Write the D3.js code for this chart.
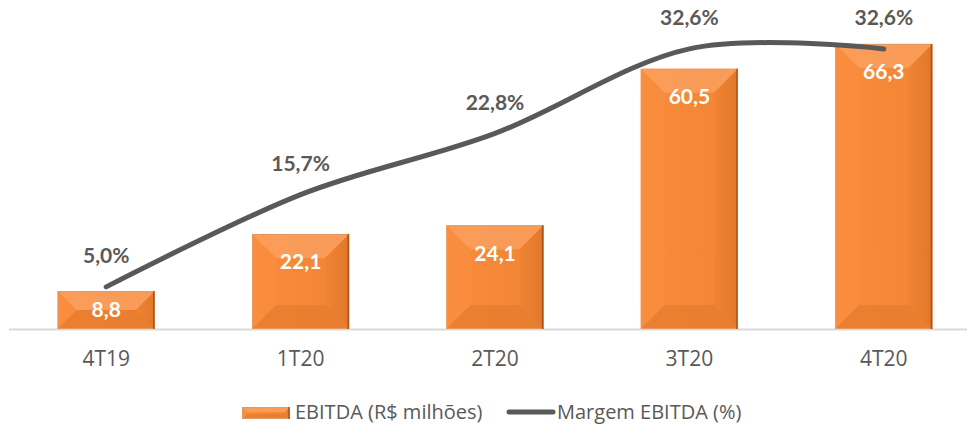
<!DOCTYPE html>
<html>
<head>
<meta charset="utf-8">
<script src="https://cdn.jsdelivr.net/npm/d3@7"></script>
<style>
  html, body { margin: 0; padding: 0; background: #fff; }
  svg text { font-family: Lato, "Open Sans", sans-serif; }
  svg text.reg { font-family: "Open Sans", sans-serif; }
</style>
</head>
<body>
<div id="chart"></div>
<script>
// chart data
const quarters = ["4T19", "1T20", "2T20", "3T20", "4T20"];
const ebitda = [8.8, 22.1, 24.1, 60.5, 66.3];
const ebitdaLabels = ["8,8", "22,1", "24,1", "60,5", "66,3"];
const margem = [5.0, 15.7, 22.8, 32.6, 32.6];
const margemLabels = ["5,0%", "15,7%", "22,8%", "32,6%", "32,6%"];
const legendNames = ["EBITDA (R$ milhões)", "Margem EBITDA (%)"];

const width = 967, height = 428;
const baseY = 329;

const svg = d3.select("#chart").append("svg")
  .attr("width", width)
  .attr("height", height);

const defs = svg.append("defs");
const face = defs.append("linearGradient").attr("id", "face")
  .attr("x1", 0).attr("x2", 1).attr("y1", 0).attr("y2", 0);
face.append("stop").attr("offset", "0%").attr("stop-color", "#fa8c3b");
face.append("stop").attr("offset", "100%").attr("stop-color", "#f18534");
const rightSide = defs.append("linearGradient").attr("id", "rightSide")
  .attr("x1", 0).attr("x2", 1).attr("y1", 0).attr("y2", 0);
rightSide.append("stop").attr("offset", "0%").attr("stop-color", "#f08333");
rightSide.append("stop").attr("offset", "100%").attr("stop-color", "#dd7428");

const x = d3.scaleBand()
  .domain(quarters)
  .range([9, 981])
  .paddingInner(0.5)
  .paddingOuter(0.25);

const y = d3.scaleLinear()
  .domain([0, 70])
  .range([baseY, baseY - 301]);

const yPct = d3.scaleLinear()
  .domain([0, 35])
  .range([330, 330 - 301.8]);

// baseline
svg.append("line")
  .attr("x1", 9).attr("x2", width)
  .attr("y1", baseY + 0.5).attr("y2", baseY + 0.5)
  .attr("stroke", "#d9d9d9")
  .attr("stroke-width", 2);

// bevelled bars
function bevelBar(g, x0, y0, x1, y1, maxB) {
  const b = Math.min(maxB, (y1 - y0) / 2, (x1 - x0) / 2);
  const pts = a => a.map(p => p.join(",")).join(" ");
  g.append("rect").attr("x", x0).attr("y", y0)
    .attr("width", x1 - x0).attr("height", y1 - y0)
    .attr("fill", "url(#face)");
  // top bevel
  g.append("polygon").attr("points", pts([[x0, y0], [x1, y0], [x1 - b, y0 + b], [x0 + b, y0 + b]]))
    .attr("fill", "#fba162").attr("opacity", 0.8);
  // left bevel
  g.append("polygon").attr("points", pts([[x0, y0], [x0 + b, y0 + b], [x0 + b, y1 - b], [x0, y1]]))
    .attr("fill", "#fd9245").attr("opacity", 0.35);
  // right bevel
  g.append("polygon").attr("points", pts([[x1, y0], [x1, y1], [x1 - b, y1 - b], [x1 - b, y0 + b]]))
    .attr("fill", "url(#rightSide)").attr("opacity", 0.8);
  // bottom bevel
  g.append("polygon").attr("points", pts([[x0, y1], [x1, y1], [x1 - b, y1 - b], [x0 + b, y1 - b]]))
    .attr("fill", "#e57b2d").attr("opacity", 0.7);
  // outline
  g.append("rect").attr("x", x0 + 0.5).attr("y", y0 + 0.5)
    .attr("width", x1 - x0 - 1).attr("height", y1 - y0 - 1)
    .attr("fill", "none").attr("stroke", "#e49a62").attr("stroke-width", 1);
  g.append("line").attr("x1", x1 - 1).attr("x2", x1 - 1).attr("y1", y0).attr("y2", y1)
    .attr("stroke", "#a9541b").attr("stroke-width", 1.5);
}

const bars = svg.append("g");
quarters.forEach((q, i) => {
  bevelBar(bars.append("g"), x(q), y(ebitda[i]), x(q) + x.bandwidth(), baseY, 24);
});

// bar labels
svg.append("g").selectAll("text")
  .data(quarters)
  .join("text")
  .attr("x", d => x(d) + x.bandwidth() / 2)
  .attr("y", (d, i) => Math.min(y(ebitda[i]) + 28, (y(ebitda[i]) + baseY) / 2))
  .attr("dy", "0.35em")
  .attr("text-anchor", "middle")
  .attr("fill", "#fff")
  .attr("font-weight", "bold")
  .attr("font-size", 21)
  .text((d, i) => ebitdaLabels[i]);

// margin line
const line = d3.line()
  .x((d, i) => x(quarters[i]) + x.bandwidth() / 2)
  .y(d => yPct(d))
  .curve(d3.curveCatmullRom.alpha(0));

svg.append("path")
  .datum(margem)
  .attr("d", line)
  .attr("fill", "none")
  .attr("stroke", "#595959")
  .attr("stroke-width", 5)
  .attr("stroke-linecap", "round");

svg.append("g").selectAll("text")
  .data(margem)
  .join("text")
  .attr("x", (d, i) => x(quarters[i]) + x.bandwidth() / 2)
  .attr("y", d => yPct(d) - 31)
  .attr("dy", "0.35em")
  .attr("text-anchor", "middle")
  .attr("fill", "#595959")
  .attr("font-weight", "bold")
  .attr("font-size", 21)
  .text((d, i) => margemLabels[i]);

// x axis
const xAxis = svg.append("g")
  .attr("transform", "translate(0," + baseY + ")")
  .call(d3.axisBottom(x).tickSize(0).tickPadding(22));
xAxis.select(".domain").remove();
xAxis.selectAll("text")
  .attr("class", "reg")
  .attr("fill", "#595959")
  .attr("font-size", 21);

// legend
const legend = svg.append("g");
bevelBar(legend.append("g"), 242, 407, 290, 419, 5);
legend.append("text")
  .attr("class", "reg")
  .attr("x", 295).attr("y", 412).attr("dy", "0.35em")
  .attr("fill", "#595959").attr("font-size", 20)
  .text(legendNames[0]);
legend.append("line")
  .attr("x1", 509).attr("x2", 553)
  .attr("y1", 412).attr("y2", 412)
  .attr("stroke", "#595959").attr("stroke-width", 5)
  .attr("stroke-linecap", "round");
legend.append("text")
  .attr("class", "reg")
  .attr("x", 557).attr("y", 412).attr("dy", "0.35em")
  .attr("fill", "#595959").attr("font-size", 20)
  .text(legendNames[1]);
</script>
</body>
</html>
